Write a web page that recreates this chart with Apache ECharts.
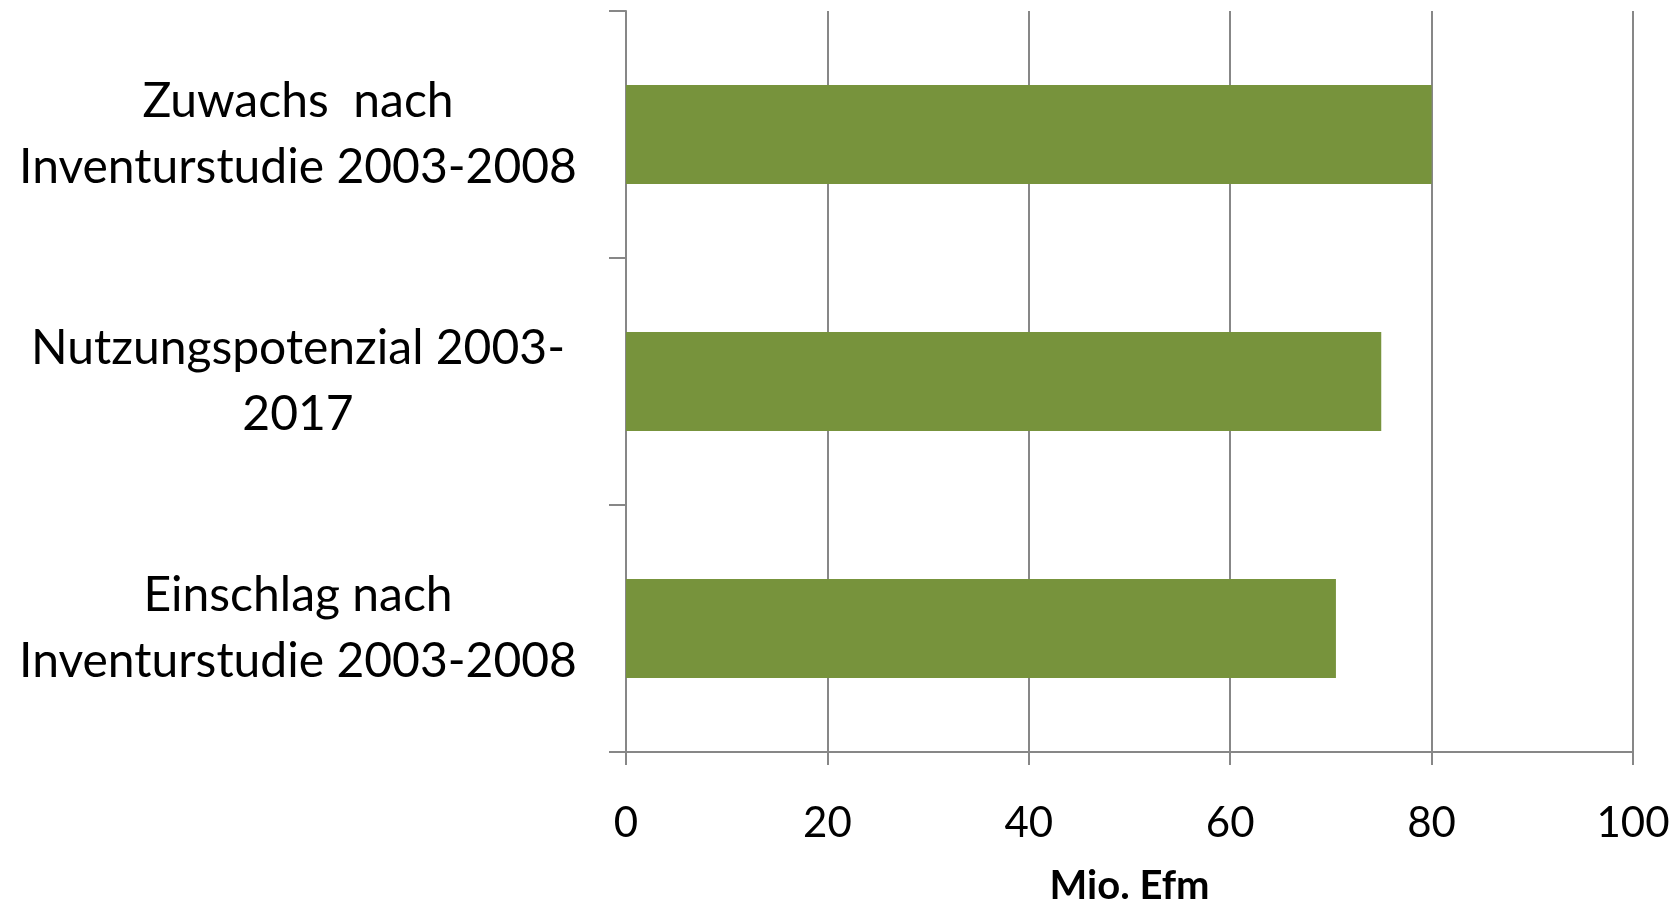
<!DOCTYPE html>
<html>
<head>
<meta charset="utf-8">
<script src="https://cdn.jsdelivr.net/npm/echarts@6/dist/echarts.min.js"></script>
<style>
html,body{margin:0;padding:0;background:#fff;}
#chart{width:1680px;height:904px;}
</style>
</head>
<body>
<div id="chart"></div>
<script>
var categories = [
  "Zuwachs  nach\nInventurstudie 2003-2008",
  "Nutzungspotenzial 2003-\n2017",
  "Einschlag nach\nInventurstudie 2003-2008"
];
var values = [80, 75, 70.5];
var xTicks = [0, 20, 40, 60, 80, 100];
var xAxisTitle = "Mio. Efm";

var FONT = "Lato";
var GRAY = "#878787";
var chart = echarts.init(document.getElementById('chart'), null, {renderer: 'canvas'});
chart.setOption({
  animation: false,
  backgroundColor: '#ffffff',
  grid: {left: 626, right: 47, top: 11, bottom: 152, containLabel: false, outerBoundsMode: 'none'},
  xAxis: {
    type: 'value',
    min: xTicks[0],
    max: xTicks[xTicks.length - 1],
    interval: xTicks[1] - xTicks[0],
    axisLine: {show: true, lineStyle: {color: GRAY, width: 2}},
    axisTick: {show: true, length: 13, lineStyle: {color: GRAY, width: 2}},
    splitLine: {show: true, lineStyle: {color: GRAY, width: 2}},
    axisLabel: {
      fontFamily: FONT, fontSize: 42, color: '#000', margin: 50, lineHeight: 42
    },
    name: xAxisTitle,
    nameLocation: 'middle',
    nameGap: 114,
    nameTextStyle: {fontFamily: FONT, fontSize: 40, fontWeight: 'bold', color: '#000', lineHeight: 40}
  },
  yAxis: {
    type: 'category',
    inverse: true,
    data: categories,
    axisLine: {show: true, lineStyle: {color: GRAY, width: 2}},
    axisTick: {show: true, length: 17, lineStyle: {color: GRAY, width: 2}},
    splitLine: {show: false},
    axisLabel: {
      fontFamily: FONT, fontSize: 48, color: '#000', align: 'center',
      margin: 328, lineHeight: 66
    }
  },
  series: [{
    type: 'bar',
    data: values,
    barCategoryGap: '60%',
    itemStyle: {color: '#77933C'}
  }]
});
</script>
</body>
</html>
